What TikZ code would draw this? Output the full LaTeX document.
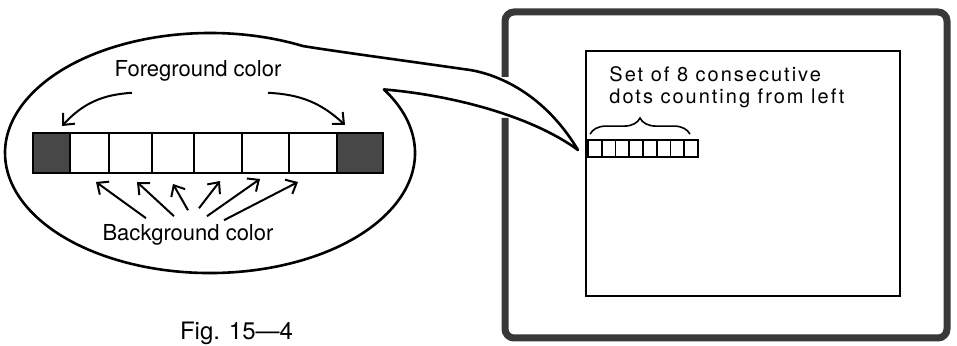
\documentclass[tikz,border=0pt]{standalone}
\usepackage{fontspec}
\setmainfont{TeX Gyre Heros}
\newfontfamily\screenfont[LetterSpace=10]{TeX Gyre Heros}
\usetikzlibrary{arrows.meta,decorations.pathreplacing}

\begin{document}
\begin{tikzpicture}[x=0.5pt,y=-0.5pt,>={Straight Barb[length=4.5pt,width=8pt]},cell/.style={draw,line width=1pt,inner sep=0pt,minimum height=20pt},dot/.style={draw,line width=0.9pt,inner sep=0pt,minimum width=6.875pt,minimum height=8.5pt},lbl/.style={font=\fontsize{11}{13}\selectfont,inner sep=1pt},frame/.style={line width=3.5pt,draw=black!78,rounded corners=4.5pt}]
\useasboundingbox (0,0) rectangle (957,346);
% monitor
\draw[frame] (505,118) -- (505,338) -- (947,338) -- (947,12) -- (505,12) -- (505,77);
\node[draw,line width=0.8pt,inner sep=0pt,minimum width=157pt,minimum height=122.5pt] (scr) at (743,173.5) {};
\node[anchor=north west,align=left,inner sep=0pt,font=\screenfont\fontsize{10}{11}\selectfont] (note) at (609,66) {Set of 8 consecutive\\dots counting from left};
\foreach \i in {0,...,7} \node[dot] (d\i) at ({594.9+\i*13.75},148.5) {};
\draw[line width=0.8pt,decorate,decoration={brace,amplitude=8pt}] ([shift={(3,-5)}]d0.north west) -- ([shift={(-9,-5)}]d7.north east);
% bubble
\draw[line width=1.3pt,line join=round] (303.1,46.1) arc[start angle=-63,end angle=-392,x radius=205,y radius=120]
  .. controls (450,95) and (530,115) .. (578,150)
  .. controls (545,95) and (500,75) .. (470,70)
  .. controls (400,60) and (340,52) .. (303.1,46.1);
\foreach \i/\a/\b/\f in {0/33/70/black!72,1/70/109/white,2/109/152/white,3/152/194/white,4/194/242/white,5/242/289/white,6/289/337/white,7/337/383/black!72}
  \node[cell,fill=\f,minimum width={(\b-\a)*0.5pt}] (c\i) at ({(\a+\b)/2},153) {};
\node[lbl] (fg) at (198,71) {Foreground color};
\node[lbl] (bg) at (188,235) {Background color};
\draw[->,line width=1pt] ([shift={(-66,9)}]fg.south) to[bend right=22] ([shift={(10.5,-6)}]c0.north);
\draw[->,line width=1pt] ([shift={(70,9)}]fg.south) to[bend left=20] ([shift={(-15,-7)}]c7.north);
\foreach \i/\sx/\sy/\ex/\ey in {1/-42/-4/6.5/8,2/-14/-6/6.5/8,3/0/-12/0/10,4/11/-14/2/7,5/19/-6/-5.5/5,6/36/-2/-15/8}
  \draw[->,line width=1pt] ([shift={(\sx,\sy)}]bg.north) -- ([shift={(\ex,\ey)}]c\i.south);
\node[anchor=base,inner sep=0pt,font=\fontsize{12}{14}\selectfont] (cap) at (236.5,340) {Fig. 15—4};
\end{tikzpicture}
\end{document}
